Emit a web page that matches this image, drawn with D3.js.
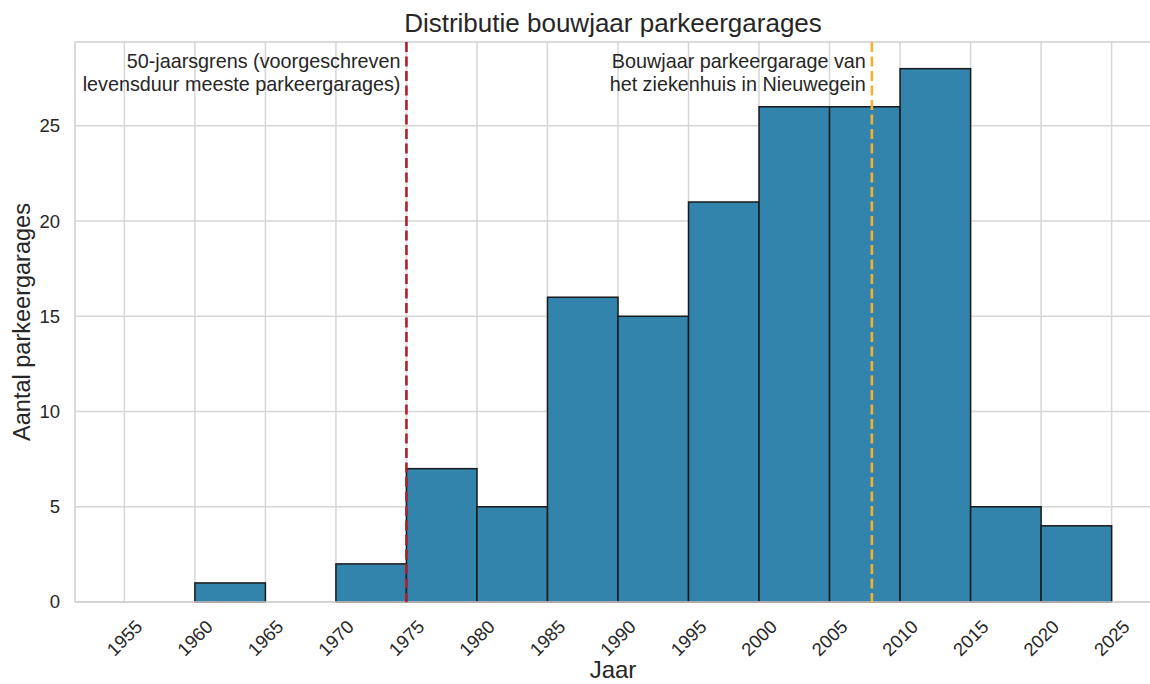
<!DOCTYPE html>
<html><head><meta charset="utf-8">
<script src="https://cdn.jsdelivr.net/npm/d3@7"></script>
<style>body{margin:0;background:#fff}svg{display:block}text{font-family:"Liberation Sans",Arial,sans-serif;fill:#262626}</style>
</head><body>
<svg id="c" width="1150" height="684"></svg>
<script>
const binStarts = [1955,1960,1965,1970,1975,1980,1985,1990,1995,2000,2005,2010,2015,2020];
const counts    = [0,1,0,2,7,5,16,15,21,26,26,28,5,4];
const binWidth = 5;
const xTicks = [1955,1960,1965,1970,1975,1980,1985,1990,1995,2000,2005,2010,2015,2020,2025];
const yTicks = [0,5,10,15,20,25];
const lifeLimitYear = 1975;
const hospitalYear = 2008;
const title = "Distributie bouwjaar parkeergarages";
const xLabel = "Jaar";
const yLabel = "Aantal parkeergarages";
const note1 = ["50-jaarsgrens (voorgeschreven","levensduur meeste parkeergarages)"];
const note2 = ["Bouwjaar parkeergarage van","het ziekenhuis in Nieuwegein"];

const svg = d3.select("#c");
const L=75, T=42, B=602, R=1161;
const x = d3.scaleLinear().domain([1951.5,2028.5]).range([L,R]);
const y = d3.scaleLinear().domain([0,29.4]).range([B,T]);
const g = svg.append("g");
// grid
g.selectAll(".gx").data(xTicks).join("line").attr("x1",d=>x(d)).attr("x2",d=>x(d)).attr("y1",T).attr("y2",B).attr("stroke","#d6d6d6").attr("stroke-width",1.5);
g.selectAll(".gy").data(yTicks).join("line").attr("x1",L).attr("x2",R).attr("y1",d=>y(d)).attr("y2",d=>y(d)).attr("stroke","#d6d6d6").attr("stroke-width",1.5);
// bars
const data = binStarts.map((s,i)=>({s,c:counts[i]})).filter(d=>d.c>0);
g.selectAll(".bar").data(data).join("rect")
 .attr("x",d=>x(d.s)).attr("width",d=>x(d.s+binWidth)-x(d.s))
 .attr("y",d=>y(d.c)).attr("height",d=>y(0)-y(d.c))
 .attr("fill","#3284ac").attr("stroke","#1a1a1a").attr("stroke-width",1.5);
// spines
g.append("rect").attr("x",L).attr("y",T).attr("width",R-L).attr("height",B-T).attr("fill","none").attr("stroke","#d0d0d0").attr("stroke-width",1.5);
// vlines
g.append("line").attr("x1",x(lifeLimitYear)).attr("x2",x(lifeLimitYear)).attr("y1",T).attr("y2",B).attr("stroke","#b0202a").attr("stroke-width",2.6).attr("stroke-dasharray","10,4.5");
g.append("line").attr("x1",x(hospitalYear)).attr("x2",x(hospitalYear)).attr("y1",T).attr("y2",B).attr("stroke","#f5b030").attr("stroke-width",2.6).attr("stroke-dasharray","10,4.5");
// y tick labels
g.selectAll(".yt").data(yTicks).join("text").attr("x",L-15).attr("y",d=>y(d)).attr("dy","0.35em").attr("text-anchor","end").attr("font-size",18.5).text(d=>d);
// x tick labels
g.selectAll(".xt").data(xTicks).join("text").attr("transform",d=>`translate(${x(d)},${638}) rotate(-45)`).attr("dy","0.35em").attr("text-anchor","middle").attr("font-size",18.5).text(d=>d);
// annotations
note1.forEach((t,i)=>g.append("text").attr("x",x(lifeLimitYear)-6).attr("y",68+i*23).attr("text-anchor","end").attr("font-size",19.8).text(t));
note2.forEach((t,i)=>g.append("text").attr("x",x(hospitalYear)-6).attr("y",68+i*23).attr("text-anchor","end").attr("font-size",19.8).text(t));
// titles
svg.append("text").attr("x",613).attr("y",32).attr("text-anchor","middle").attr("font-size",26).text(title);
svg.append("text").attr("x",613).attr("y",678).attr("text-anchor","middle").attr("font-size",24).text(xLabel);
svg.append("text").attr("transform",`translate(30,${322}) rotate(-90)`).attr("text-anchor","middle").attr("font-size",23.5).text(yLabel);
</script>
</body></html>
